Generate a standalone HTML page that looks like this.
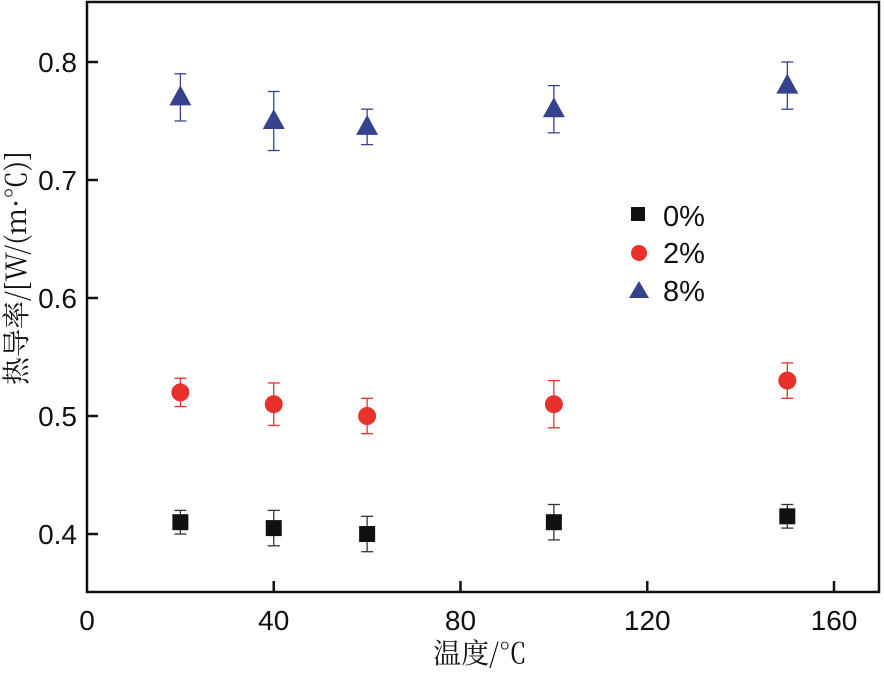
<!DOCTYPE html>
<html><head><meta charset="utf-8"><style>
body{margin:0;background:#fff}
svg text{font-family:"Liberation Sans",Arial,sans-serif;fill:#111}
</style></head><body>
<svg id="chart" width="884" height="668" viewBox="0 0 884 668">
<rect x="87" y="2" width="792" height="590" fill="none" stroke="#111" stroke-width="2.5"/>
<g id="ticks"></g>
<g id="marks"></g>
<text x="480" y="663" font-size="28" text-anchor="middle" style='font-family:"Noto Serif CJK SC","Liberation Serif",serif'>温度/℃</text>
<text transform="translate(26,268) rotate(-90)" font-size="28" text-anchor="middle" style='font-family:"Noto Serif CJK SC","Liberation Serif",serif'>热导率/[W/(m·℃)]</text>
<g>
<g><rect x="631" y="207" width="14" height="14" fill="#111"/><text x="663" y="226" font-size="29">0%</text></g>
<g><circle cx="639" cy="253" r="8" fill="#e8302c"/><text x="663" y="263" font-size="29">2%</text></g>
<g><polygon points="639,281 649,298 629,298" fill="#35438f"/><text x="663" y="301" font-size="29">8%</text></g>
</g>
</svg>
<script>
const xCats=[20,40,60,100,150];
const s0=[0.41,0.405,0.40,0.41,0.415];
const e0=[0.01,0.015,0.015,0.015,0.01];
const s2=[0.52,0.51,0.50,0.51,0.53];
const e2=[0.012,0.018,0.015,0.02,0.015];
const s8=[0.77,0.75,0.745,0.76,0.78];
const e8=[0.02,0.025,0.015,0.02,0.02];
const xTicks=[0,40,80,120,160];
const yTicks=[0.4,0.5,0.6,0.7,0.8];
const xs=v=>87+v*(834-87)/160;
const ys=v=>534-(v-0.4)*1180;
const NS="http://www.w3.org/2000/svg";
function mk(tag,attrs,parent){const e=document.createElementNS(NS,tag);for(const k in attrs)e.setAttribute(k,attrs[k]);parent.appendChild(e);return e;}
const tg=document.getElementById('ticks');
xTicks.forEach(t=>{
 const x=xs(t);
 if(t>0){const l=mk('line',{x1:x,x2:x,y1:592,y2:581,stroke:'#111','stroke-width':2.5},tg);
 
 }
 const tx=mk('text',{x:x,y:630,'font-size':28,'text-anchor':'middle'},tg);tx.textContent=t;
 
 
});
yTicks.forEach(t=>{
 const y=ys(t);
 const l=mk('line',{x1:87,x2:98,y1:y,y2:y,stroke:'#111','stroke-width':2.5},tg);
 
 
 const tx=mk('text',{x:77,y:y+10,'font-size':28,'text-anchor':'end'},tg);tx.textContent=t.toFixed(1);
 
 
});
const mg=document.getElementById('marks');
function err(x,v,e,c){
 const g=mk('g',{stroke:c,'stroke-width':1.3},mg);
 
 
 const y1=ys(v+e),y2=ys(v-e);
 mk('line',{x1:x,x2:x,y1:y1,y2:y2},g);
 mk('line',{x1:x-6,x2:x+6,y1:y1,y2:y1},g);
 mk('line',{x1:x-6,x2:x+6,y1:y2,y2:y2},g);
}
xCats.forEach((c,i)=>{
 const x=xs(c);
 err(x,s0[i],e0[i],'#333');
 let y=ys(s0[i]);
 const r=mk('rect',{x:x-8,y:y-8,width:16,height:16,fill:'#111'},mg);
 
 
 err(x,s2[i],e2[i],'#e8302c');
 y=ys(s2[i]);
 const ci=mk('circle',{cx:x,cy:y,r:9,fill:'#e8302c'},mg);
 
 
 err(x,s8[i],e8[i],'#35438f');
 y=ys(s8[i]);
 const p=mk('polygon',{points:`${x},${y-12} ${x+11},${y+8} ${x-11},${y+8}`,fill:'#35438f'},mg);
 
 
});
</script>
</body></html>
